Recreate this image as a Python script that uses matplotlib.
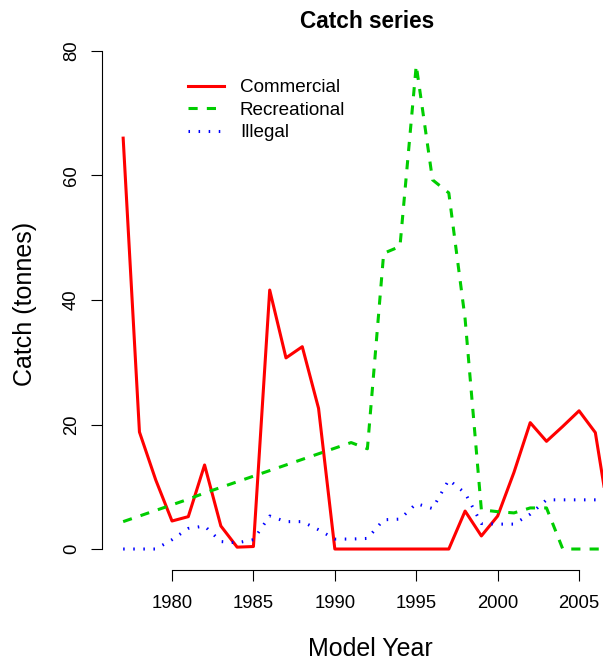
import matplotlib.pyplot as plt

plt.rcParams['font.family'] = ['Liberation Sans', 'DejaVu Sans']

# Catch by sector, tonnes per model year
years = list(range(1977, 2008))
commercial = [66.0, 18.8, 11.1, 4.5, 5.2, 13.5, 3.7, 0.3, 0.4, 41.6,
              30.7, 32.5, 22.6, 0.0, 0.0, 0.0, 0.0, 0.0, 0.0, 0.0,
              0.0, 6.1, 2.1, 5.3, 12.3, 20.3, 17.3, 19.7, 22.2, 18.7,
              2.5]
recreational = [4.4, 5.3, 6.2, 7.1, 8.0, 9.0, 9.9, 10.8, 11.7, 12.6,
                13.5, 14.4, 15.3, 16.2, 17.1, 16.1, 47.5, 48.6, 77.7, 59.3,
                57.2, 37.0, 6.3, 6.0, 5.8, 6.6, 6.6, 0.0, 0.0, 0.0,
                0.0]
illegal = [0.0, 0.0, 0.0, 1.5, 3.3, 3.7, 1.2, 1.0, 1.5, 5.3,
           4.4, 4.4, 3.1, 1.6, 1.6, 1.7, 4.7, 4.8, 7.3, 6.5,
           11.1, 9.0, 4.1, 4.0, 4.0, 5.6, 7.9, 7.9, 7.9, 7.9,
           7.9]

x_ticks = [1980, 1985, 1990, 1995, 2000, 2005]
y_ticks = [0, 20, 40, 60, 80]

W, H = 603, 663
fig = plt.figure(figsize=(W / 100, H / 100), dpi=100)
ax = fig.add_axes([102 / W, 1 - 570 / H, 529 / W, 524 / H])

lw = 2.2
ax.plot(years, commercial, color='#FF0000', lw=lw, label='Commercial')
ax.plot(years, recreational, color='#00CD00', lw=lw, dashes=(3, 3),
        label='Recreational')
ax.plot(years, illegal, color='#0000FF', lw=lw, dashes=(0.5, 2.8),
        label='Illegal')

ax.set_xlim(1975.70, 2008.19)
ax.set_ylim(-3.37, 80.8)

for side in ['top', 'right']:
    ax.spines[side].set_visible(False)
ax.spines['left'].set_bounds(0, 80)
ax.spines['bottom'].set_bounds(1980, 2005)
for side in ['left', 'bottom']:
    ax.spines[side].set_linewidth(0.8)

ax.set_xticks(x_ticks)
ax.set_yticks(y_ticks)
ax.tick_params(length=7.9, width=0.8, labelsize=13.3)
ax.tick_params(axis='x', pad=10)
ax.tick_params(axis='y', pad=8)
for lab in ax.get_yticklabels():
    lab.set_rotation(90)
    lab.set_va('center')

fig.text(367 / W, 1 - 21 / H, 'Catch series', ha='center',
         va='center', fontsize=16.3, fontweight='bold')
fig.text(370 / W, 1 - 649 / H, 'Model Year', ha='center', va='center',
         fontsize=18)
fig.text(25 / W, 1 - 304 / H, 'Catch (tonnes)', ha='center', va='center',
         rotation=90, fontsize=18)

ax.legend(loc='upper left', bbox_to_anchor=(188 / W, 1 - 79 / H),
          bbox_transform=fig.transFigure, frameon=False, fontsize=13.6,
          handlelength=1.9, handletextpad=0.85, labelspacing=0.28,
          borderpad=0, borderaxespad=0)

fig.savefig('out.png', dpi=100)
